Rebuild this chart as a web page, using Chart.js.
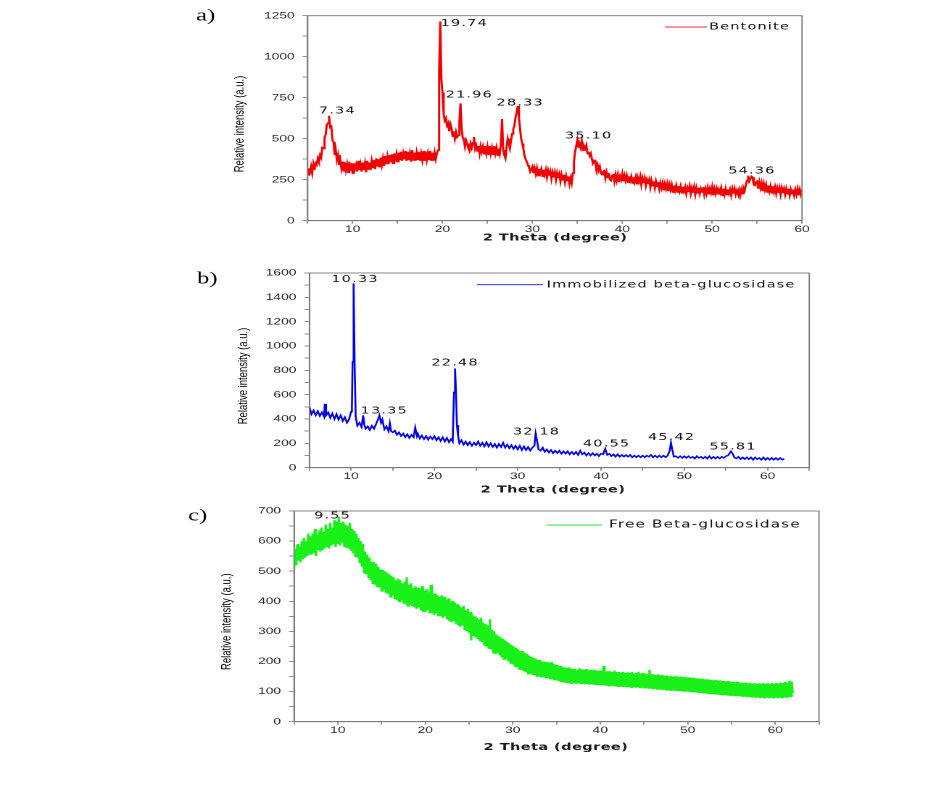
<!DOCTYPE html>
<html><head><meta charset="utf-8">
<script src="https://cdn.jsdelivr.net/npm/chart.js@4.4.1/dist/chart.umd.min.js"></script>
<style>
html,body{margin:0;padding:0;background:#fff;width:947px;height:792px;overflow:hidden;}
.panel{position:absolute;left:0;transform-origin:0 0;}
canvas{display:block;}
</style></head><body>
<div class="panel" style="top:0px"><canvas id="ca"></canvas></div>
<div class="panel" style="top:262px"><canvas id="cb"></canvas></div>
<div class="panel" style="top:500px"><canvas id="cc"></canvas></div>
<script>
// ---------- data (one row = one degree) ----------
const thetaA = [
5,5.125,5.25,5.375,5.5,5.625,5.75,5.875,
6,6.125,6.25,6.375,6.5,6.625,6.75,6.875,
7,7.125,7.25,7.375,7.5,7.625,7.75,7.875,
8,8.125,8.25,8.375,8.5,8.625,8.75,8.875,
9,9.125,9.25,9.375,9.5,9.625,9.75,9.875,
10,10.125,10.25,10.375,10.5,10.625,10.75,10.875,
11,11.125,11.25,11.375,11.5,11.625,11.75,11.875,
12,12.125,12.25,12.375,12.5,12.625,12.75,12.875,
13,13.125,13.25,13.375,13.5,13.625,13.75,13.875,
14,14.125,14.25,14.375,14.5,14.625,14.75,14.875,
15,15.125,15.25,15.375,15.5,15.625,15.75,15.875,
16,16.125,16.25,16.375,16.5,16.625,16.75,16.875,
17,17.125,17.25,17.375,17.5,17.625,17.75,17.875,
18,18.125,18.25,18.375,18.5,18.625,18.75,18.875,
19,19.125,19.25,19.375,19.5,19.625,19.75,19.875,
20,20.125,20.25,20.375,20.5,20.625,20.75,20.875,
21,21.125,21.25,21.375,21.5,21.625,21.75,21.875,
22,22.125,22.25,22.375,22.5,22.625,22.75,22.875,
23,23.125,23.25,23.375,23.5,23.625,23.75,23.875,
24,24.125,24.25,24.375,24.5,24.625,24.75,24.875,
25,25.125,25.25,25.375,25.5,25.625,25.75,25.875,
26,26.125,26.25,26.375,26.5,26.625,26.75,26.875,
27,27.125,27.25,27.375,27.5,27.625,27.75,27.875,
28,28.125,28.25,28.375,28.5,28.625,28.75,28.875,
29,29.125,29.25,29.375,29.5,29.625,29.75,29.875,
30,30.125,30.25,30.375,30.5,30.625,30.75,30.875,
31,31.125,31.25,31.375,31.5,31.625,31.75,31.875,
32,32.125,32.25,32.375,32.5,32.625,32.75,32.875,
33,33.125,33.25,33.375,33.5,33.625,33.75,33.875,
34,34.125,34.25,34.375,34.5,34.625,34.75,34.875,
35,35.125,35.25,35.375,35.5,35.625,35.75,35.875,
36,36.125,36.25,36.375,36.5,36.625,36.75,36.875,
37,37.125,37.25,37.375,37.5,37.625,37.75,37.875,
38,38.125,38.25,38.375,38.5,38.625,38.75,38.875,
39,39.125,39.25,39.375,39.5,39.625,39.75,39.875,
40,40.125,40.25,40.375,40.5,40.625,40.75,40.875,
41,41.125,41.25,41.375,41.5,41.625,41.75,41.875,
42,42.125,42.25,42.375,42.5,42.625,42.75,42.875,
43,43.125,43.25,43.375,43.5,43.625,43.75,43.875,
44,44.125,44.25,44.375,44.5,44.625,44.75,44.875,
45,45.125,45.25,45.375,45.5,45.625,45.75,45.875,
46,46.125,46.25,46.375,46.5,46.625,46.75,46.875,
47,47.125,47.25,47.375,47.5,47.625,47.75,47.875,
48,48.125,48.25,48.375,48.5,48.625,48.75,48.875,
49,49.125,49.25,49.375,49.5,49.625,49.75,49.875,
50,50.125,50.25,50.375,50.5,50.625,50.75,50.875,
51,51.125,51.25,51.375,51.5,51.625,51.75,51.875,
52,52.125,52.25,52.375,52.5,52.625,52.75,52.875,
53,53.125,53.25,53.375,53.5,53.625,53.75,53.875,
54,54.125,54.25,54.375,54.5,54.625,54.75,54.875,
55,55.125,55.25,55.375,55.5,55.625,55.75,55.875,
56,56.125,56.25,56.375,56.5,56.625,56.75,56.875,
57,57.125,57.25,57.375,57.5,57.625,57.75,57.875,
58,58.125,58.25,58.375,58.5,58.625,58.75,58.875,
59,59.125,59.25,59.375,59.5,59.625,59.75,59.875,
60];
const bentonite = [
280,320,295,330,290,345,310,350,
340,380,360,400,385,445,440,505,
525,585,595,640,570,575,490,480,
400,430,370,400,340,370,320,360,
300,355,310,345,295,360,305,350,
290,350,315,340,300,365,310,345,
300,355,310,350,295,365,315,355,
310,365,325,370,315,380,330,375,
325,385,340,380,335,395,345,390,
345,400,355,405,350,410,360,405,
360,415,370,420,365,410,375,425,
365,420,370,410,360,430,370,415,
365,415,375,420,365,410,370,425,
365,420,370,410,370,425,365,415,
365,415,375,410,430,900,1215,860,
780,650,610,625,580,595,545,590,
565,515,545,500,540,510,520,600,
715,560,505,490,450,490,470,440,
425,470,445,475,510,440,460,425,
455,410,455,420,450,405,455,410,
450,400,455,410,445,405,455,410,
445,400,440,410,470,620,430,400,
380,450,500,470,440,490,530,560,
580,630,660,700,630,560,500,470,
440,395,375,360,340,325,300,315,
330,290,320,285,320,275,315,290,
315,270,310,280,310,265,305,275,
300,255,295,265,295,250,290,260,
285,240,280,250,280,235,275,245,
270,225,260,230,290,360,420,455,
490,445,470,445,485,430,455,440,
460,410,420,395,410,375,350,360,
365,310,340,310,330,290,280,300,
305,260,295,265,290,250,245,275,
285,240,280,245,280,235,270,250,
285,240,275,245,275,235,270,245,
270,230,265,235,265,225,260,240,
270,220,260,230,260,215,250,225,
250,205,245,215,240,200,240,210,
235,195,230,200,230,185,225,195,
225,180,220,190,220,175,215,185,
215,175,210,180,210,170,205,180,
205,165,200,175,210,165,200,170,
205,160,200,170,200,165,195,175,
205,160,195,165,200,160,195,170,
205,155,195,165,195,160,190,170,
200,155,195,160,195,160,190,165,
190,155,195,165,195,160,185,165,
190,155,190,165,200,185,215,245,
275,240,255,270,265,220,215,235,
240,195,235,200,230,180,225,190,
220,175,215,180,210,170,210,175,
205,165,200,170,200,160,200,170,
195,160,195,165,195,155,190,165,
190,155,190,160,195,155,190,160,
190];

const thetaB = [
5,5.25,5.5,5.75,6,6.25,6.5,6.75,6.85,7,
7.25,7.5,7.75,8,8.25,8.5,8.75,9,9.25,9.5,
9.75,10,10.1,10.18,10.3,10.42,10.55,10.75,11,11.25,
11.45,11.6,11.75,12,12.25,12.5,12.75,13,13.25,13.4,
13.6,13.75,14,14.25,14.5,14.65,14.8,15,15.25,15.5,
15.75,16,16.25,16.5,16.75,17,17.25,17.5,17.7,17.9,
18,18.25,18.5,18.75,19,19.25,19.5,19.75,20,20.25,
20.5,20.75,21,21.25,21.5,21.75,22,22.2,22.35,22.48,
22.58,22.7,22.85,23,23.25,23.5,23.75,24,24.25,24.5,
24.75,25,25.25,25.5,25.75,26,26.25,26.5,26.75,27,
27.25,27.5,27.75,28,28.25,28.5,28.75,29,29.25,29.5,
29.75,30,30.25,30.5,30.75,31,31.25,31.5,31.75,32,
32.15,32.35,32.5,32.75,33,33.25,33.5,33.75,34,34.25,
34.5,34.75,35,35.25,35.5,35.75,36,36.25,36.5,36.75,
37,37.25,37.5,37.75,38,38.25,38.5,38.75,39,39.25,
39.5,39.75,40,40.25,40.5,40.75,41,41.25,41.5,41.75,
42,42.25,42.5,42.75,43,43.25,43.5,43.75,44,44.25,
44.5,44.75,45,45.25,45.5,45.75,46,46.25,46.5,46.75,
47,47.25,47.5,47.75,48,48.25,48.4,48.55,48.75,49,
49.25,49.5,49.75,50,50.25,50.5,50.75,51,51.25,51.5,
51.75,52,52.25,52.5,52.75,53,53.25,53.5,53.75,54,
54.25,54.5,54.75,55,55.25,55.6,55.85,56,56.25,56.5,
56.75,57,57.25,57.5,57.75,58,58.25,58.5,58.75,59,
59.25,59.5,59.75,60,60.25,60.5,60.75,61,61.25,61.5,
61.75,62];
const immobilized = [
500,440,470,430,465,425,455,420,525,430,
455,410,445,400,440,395,430,385,415,370,
395,460,500,870,1515,870,420,345,370,335,
430,350,320,340,310,345,320,360,400,430,
370,395,315,340,300,365,300,290,305,270,
290,260,280,250,275,245,270,250,330,260,
280,240,265,235,260,230,255,235,260,225,
250,220,250,215,245,210,235,215,620,815,
650,350,260,200,225,190,215,185,210,180,
205,185,215,180,205,175,210,175,200,170,
195,165,195,170,205,165,190,160,185,155,
180,150,180,145,175,145,170,140,165,180,
280,210,150,140,165,130,150,125,145,120,
140,120,140,115,135,115,135,110,130,110,
130,105,140,110,125,100,120,100,120,100,
115,95,115,110,155,105,115,95,110,90,
110,90,105,90,105,90,105,85,100,85,
100,85,100,85,100,90,105,85,100,85,
100,85,100,85,100,140,205,150,90,95,
80,95,80,95,80,95,80,90,75,95,
80,90,75,90,75,95,75,90,75,90,
75,90,80,95,100,135,110,85,75,90,
70,85,70,85,70,85,65,85,70,80,
65,85,65,80,65,80,65,80,65,80,
65,75];

const thetaC = [
5,5.125,5.25,5.375,5.5,5.625,5.75,5.875,
6,6.125,6.25,6.375,6.5,6.625,6.75,6.875,
7,7.125,7.25,7.375,7.5,7.625,7.75,7.875,
8,8.125,8.25,8.375,8.5,8.625,8.75,8.875,
9,9.125,9.25,9.375,9.5,9.625,9.75,9.875,
10,10.125,10.25,10.375,10.5,10.625,10.75,10.875,
11,11.125,11.25,11.375,11.5,11.625,11.75,11.875,
12,12.125,12.25,12.375,12.5,12.625,12.75,12.875,
13,13.125,13.25,13.375,13.5,13.625,13.75,13.875,
14,14.125,14.25,14.375,14.5,14.625,14.75,14.875,
15,15.125,15.25,15.375,15.5,15.625,15.75,15.875,
16,16.125,16.25,16.375,16.5,16.625,16.75,16.875,
17,17.125,17.25,17.375,17.5,17.625,17.75,17.875,
18,18.125,18.25,18.375,18.5,18.625,18.75,18.875,
19,19.125,19.25,19.375,19.5,19.625,19.75,19.875,
20,20.125,20.25,20.375,20.5,20.625,20.75,20.875,
21,21.125,21.25,21.375,21.5,21.625,21.75,21.875,
22,22.125,22.25,22.375,22.5,22.625,22.75,22.875,
23,23.125,23.25,23.375,23.5,23.625,23.75,23.875,
24,24.125,24.25,24.375,24.5,24.625,24.75,24.875,
25,25.125,25.25,25.375,25.5,25.625,25.75,25.875,
26,26.125,26.25,26.375,26.5,26.625,26.75,26.875,
27,27.125,27.25,27.375,27.5,27.625,27.75,27.875,
28,28.125,28.25,28.375,28.5,28.625,28.75,28.875,
29,29.125,29.25,29.375,29.5,29.625,29.75,29.875,
30,30.125,30.25,30.375,30.5,30.625,30.75,30.875,
31,31.125,31.25,31.375,31.5,31.625,31.75,31.875,
32,32.125,32.25,32.375,32.5,32.625,32.75,32.875,
33,33.125,33.25,33.375,33.5,33.625,33.75,33.875,
34,34.125,34.25,34.375,34.5,34.625,34.75,34.875,
35,35.125,35.25,35.375,35.5,35.625,35.75,35.875,
36,36.125,36.25,36.375,36.5,36.625,36.75,36.875,
37,37.125,37.25,37.375,37.5,37.625,37.75,37.875,
38,38.125,38.25,38.375,38.5,38.625,38.75,38.875,
39,39.125,39.25,39.375,39.5,39.625,39.75,39.875,
40,40.125,40.25,40.375,40.5,40.625,40.75,40.875,
41,41.125,41.25,41.375,41.5,41.625,41.75,41.875,
42,42.125,42.25,42.375,42.5,42.625,42.75,42.875,
43,43.125,43.25,43.375,43.5,43.625,43.75,43.875,
44,44.125,44.25,44.375,44.5,44.625,44.75,44.875,
45,45.125,45.25,45.375,45.5,45.625,45.75,45.875,
46,46.125,46.25,46.375,46.5,46.625,46.75,46.875,
47,47.125,47.25,47.375,47.5,47.625,47.75,47.875,
48,48.125,48.25,48.375,48.5,48.625,48.75,48.875,
49,49.125,49.25,49.375,49.5,49.625,49.75,49.875,
50,50.125,50.25,50.375,50.5,50.625,50.75,50.875,
51,51.125,51.25,51.375,51.5,51.625,51.75,51.875,
52,52.125,52.25,52.375,52.5,52.625,52.75,52.875,
53,53.125,53.25,53.375,53.5,53.625,53.75,53.875,
54,54.125,54.25,54.375,54.5,54.625,54.75,54.875,
55,55.125,55.25,55.375,55.5,55.625,55.75,55.875,
56,56.125,56.25,56.375,56.5,56.625,56.75,56.875,
57,57.125,57.25,57.375,57.5,57.625,57.75,57.875,
58,58.125,58.25,58.375,58.5,58.625,58.75,58.875,
59,59.125,59.25,59.375,59.5,59.625,59.75,59.875,
60,60.125,60.25,60.375,60.5,60.625,60.75,60.875,
61,61.125,61.25,61.375,61.5,61.625,61.75,61.875,
62];
const freeEnzyme = [
505,575,520,590,535,580,530,600,
540,610,545,600,550,625,555,615,
555,625,560,640,550,620,570,635,
565,645,570,630,575,655,580,640,
575,660,585,645,590,670,580,665,
590,680,585,660,595,665,580,655,
580,650,575,660,570,640,560,635,
550,625,545,610,530,600,515,590,
495,565,490,555,480,545,470,530,
460,530,455,525,450,515,445,505,
435,505,440,500,430,495,425,490,
415,485,420,480,410,470,405,475,
400,470,405,460,395,465,390,480,
385,455,390,460,385,445,380,450,
375,445,380,440,370,450,365,435,
365,440,370,430,360,455,360,425,
355,425,360,420,350,415,350,420,
345,415,350,405,340,410,335,400,
330,400,335,395,325,390,320,385,
315,380,320,385,305,370,300,375,
295,365,270,355,285,350,280,345,
275,340,270,345,265,330,255,325,
250,320,245,340,240,305,230,300,
225,290,230,285,220,280,215,275,
205,270,210,265,200,260,195,255,
190,250,185,245,180,240,175,235,
172,235,170,230,165,225,160,220,
160,215,158,212,155,210,152,205,
150,205,150,200,148,200,145,198,
145,195,142,198,140,192,138,190,
138,188,135,185,132,182,130,180,
130,178,128,180,127,175,126,176,
128,175,126,172,127,178,125,174,
126,172,124,175,125,170,123,172,
124,170,123,172,122,168,122,170,
122,170,121,185,120,166,120,168,
120,168,119,165,120,170,118,165,
118,165,117,163,118,166,116,162,
117,164,116,162,115,165,114,160,
116,162,115,166,114,160,113,162,
113,160,112,158,112,172,110,158,
110,157,110,155,109,158,108,154,
108,155,107,152,106,154,105,150,
105,152,104,150,103,151,102,148,
102,150,101,147,100,148,100,146,
100,147,99,145,98,146,97,143,
97,144,96,142,95,143,94,140,
94,141,93,140,92,139,92,137,
91,138,90,136,90,137,89,135,
88,135,88,134,87,135,86,132,
86,132,86,131,85,133,85,130,
85,130,85,129,84,130,84,128,
83,128,83,127,82,128,82,126,
82,127,81,126,81,128,80,126,
81,127,80,126,81,128,80,127,
81,128,80,127,81,130,80,128,
82,132,82,130,83,136,84,134,
95];

const peakLabelsA = ['7.34','19.74','21.96','28.33','35.10','54.36'];
const peakLabelsB = ['10.33','13.35','22.48','32.18','40.55','45.42','55.81'];
const peakLabelsC = ['9.55'];

// ---------- layout (original figure is stretched horizontally) ----------
const S = 1.45;
const W = 653;
const peakSpotsA = [[8.3,669],[22.42,1204],[22.98,767],[28.64,718],[36.26,517],[54.42,303]];
const peakSpotsB = [[10.47,1549],[13.98,466],[22.48,861],[32.26,293],[40.67,197],[48.47,250],[55.85,170]];
const peakSpotsC = [[9.4,683]];

const decorPlugin = {
  id: 'panelDecor',
  afterDraw(chart, args, o) {
    const ctx = chart.ctx, ca = chart.chartArea, xs = chart.scales.x, ys = chart.scales.y;
    ctx.save();
    ctx.strokeStyle = '#7a7a7a'; ctx.lineWidth = 0.9;
    ctx.strokeRect(ca.left, ca.top, ca.right - ca.left, ca.bottom - ca.top);
    ctx.fillStyle = '#000'; ctx.textBaseline = 'middle'; ctx.textAlign = 'left';
    ctx.font = '17px "Liberation Serif", serif';
    ctx.fillText(o.letter, o.letterX, o.letterY);
    ctx.save();
    ctx.translate(o.yTitleX, o.yTitleY); ctx.rotate(-Math.PI / 2);
    ctx.font = '9.5px "Liberation Sans", sans-serif'; ctx.textAlign = 'center';
    ctx.fillStyle = '#000';
    ctx.fillText('Relative intensity (a.u.)', 0, 0);
    ctx.restore();
    ctx.font = 'bold 10px "DejaVu Sans", sans-serif'; ctx.textAlign = 'center'; ctx.fillStyle = '#1a1a1a';
    ctx.letterSpacing = '0.3px';
    ctx.fillText('2 Theta (degree)', o.xTitleX, o.xTitleY);
    ctx.strokeStyle = o.legend.color; ctx.lineWidth = 0.9;
    ctx.beginPath(); ctx.moveTo(o.legend.x0, o.legend.y); ctx.lineTo(o.legend.x1, o.legend.y); ctx.stroke();
    ctx.letterSpacing = '0.8px';
    ctx.font = o.legend.size + 'px "DejaVu Sans", sans-serif'; ctx.textAlign = 'left'; ctx.fillStyle = '#111';
    ctx.fillText(o.legend.text, o.legend.tx, o.legend.y);
    ctx.font = '10px "DejaVu Sans", sans-serif'; ctx.textAlign = 'center';
    o.labels.forEach((t, i) => {
      ctx.fillText(t, xs.getPixelForValue(o.spots[i][0]), ys.getPixelForValue(o.spots[i][1]));
    });
    ctx.restore();
  }
};

function makePanel(id, height, theta, values, color, lw, xMax, yMax, yStep, pad, decor) {
  const cv = document.getElementById(id);
  cv.width = W; cv.height = height;
  cv.parentNode.style.transform = 'scaleX(' + S + ')';
  const tickFont = { family: '"Liberation Sans", Arial, sans-serif', size: 9.5 };
  new Chart(cv, {
    type: 'line',
    data: { datasets: [{ data: theta.map((t, i) => ({ x: t, y: values[i] })), borderColor: color,
      borderWidth: lw, borderJoinStyle: 'miter', pointRadius: 0, tension: 0, fill: false }] },
    options: {
      responsive: false, animation: false, devicePixelRatio: 2, parsing: false,
      layout: { padding: pad },
      plugins: { legend: { display: false }, tooltip: { enabled: false }, panelDecor: decor },
      scales: {
        x: { type: 'linear', min: 5, max: xMax,
          ticks: { stepSize: 5, autoSkip: false, maxRotation: 0, padding: 0, color: '#2a2a2a', font: tickFont,
            callback: v => (v % 10 === 0 ? String(v) : '') },
          grid: { drawOnChartArea: false, drawTicks: true, tickLength: 3, color: '#7a7a7a', lineWidth: 0.8 },
          border: { color: '#7a7a7a', width: 0.9 },
          afterFit: s => { s.height = 20; s.paddingLeft = 0; s.paddingRight = 0; } },
        y: { type: 'linear', min: 0, max: yMax,
          ticks: { stepSize: yStep / 2, autoSkip: false, padding: 5.5, color: '#2a2a2a', font: tickFont,
            callback: v => (v % yStep === 0 ? String(v) : '') },
          grid: { drawOnChartArea: false, drawTicks: true, tickLength: 3.5, color: '#7a7a7a', lineWidth: 0.8 },
          border: { color: '#7a7a7a', width: 0.9 },
          afterFit: s => { s.width = 40; s.paddingTop = 0; s.paddingBottom = 0; } }
      }
    },
    plugins: [decorPlugin]
  });
}

makePanel('ca', 262, thetaA, bentonite, '#f00000', 1.5, 60, 1250, 250,
  { left: 172.2, right: 99.9, top: 15.7, bottom: 21.3 },
  { letter: 'a)', letterX: 135.2, letterY: 16, yTitleX: 165.3, yTitleY: 124, xTitleX: 382.8, xTitleY: 238,
    legend: { text: 'Bentonite', color: '#e83030', x0: 458.6, x1: 487.6, tx: 489, y: 27, size: 10 },
    labels: peakLabelsA, spots: peakSpotsA });

makePanel('cb', 238, thetaB, immobilized, '#0000e6', 1.3, 65, 1600, 200,
  { left: 173.4, right: 94.9, top: 11, bottom: 12.3 },
  { letter: 'b)', letterX: 135.9, letterY: 17, yTitleX: 167.8, yTitleY: 114, xTitleX: 381.4, xTitleY: 228,
    legend: { text: 'Immobilized beta-glucosidase', color: '#1a1ae0', x0: 329, x1: 374.5, tx: 377, y: 22.7, size: 10 },
    labels: peakLabelsB, spots: peakSpotsB });

makePanel('cc', 292, thetaC, freeEnzyme, '#18f018', 1.6, 65, 700, 100,
  { left: 162.8, right: 88.2, top: 11, bottom: 50.3 },
  { letter: 'c)', letterX: 129.7, letterY: 16, yTitleX: 156.6, yTitleY: 121.7, xTitleX: 383.4, xTitleY: 247.3,
    legend: { text: 'Free Beta-glucosidase', color: '#22e022', x0: 377, x1: 415, tx: 420, y: 25, size: 10.5 },
    labels: peakLabelsC, spots: peakSpotsC });
</script>
</body></html>
